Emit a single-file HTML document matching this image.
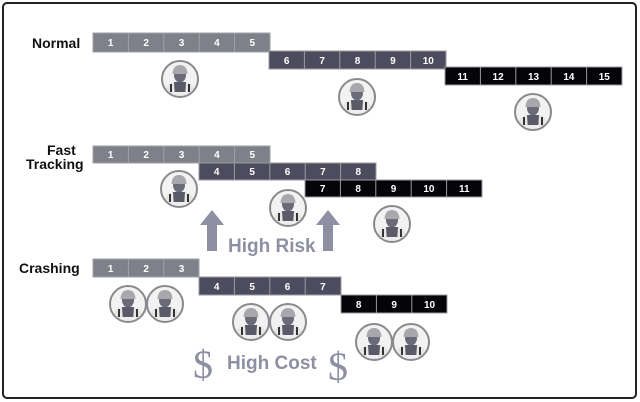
<!DOCTYPE html>
<html><head><meta charset="utf-8"><style>
html,body{margin:0;padding:0;background:#fff;}
svg{display:block;}
text{font-family:"Liberation Sans",sans-serif;}
.n{font-size:10px;fill:#fff;text-anchor:middle;font-weight:bold;}
.l{font-size:14px;font-weight:bold;fill:#111;}
</style></head><body>
<svg width="640" height="402" viewBox="0 0 640 402" xmlns="http://www.w3.org/2000/svg">
<defs>
<g id="w">
<circle cx="0" cy="0" r="18" fill="#f2f2f2" stroke="#8a8a8e" stroke-width="2"/>
<clipPath id="c"><circle cx="0" cy="0" r="17"/></clipPath>
<g clip-path="url(#c)">
<path d="M-15,18 L-14,9 Q-12,4 -6,3 L6,3 Q12,4 14,9 L15,18 Z" fill="#e6e6e6"/>
<path d="M-6,3 L6,3 L5,18 L-5,18 Z" fill="#5a5a68"/>
<rect x="-10" y="5" width="2" height="13" fill="#333"/>
<rect x="8" y="5" width="2" height="13" fill="#333"/>
<rect x="-10" y="13" width="20" height="5" fill="#eee"/>
<ellipse cx="0" cy="-4" rx="6" ry="7.5" fill="#6a6a78"/>
<path d="M-7.5,-5 Q-7,-14 0,-14 Q7,-14 7.5,-5 Z" fill="#a8a8ac"/>
</g>
</g>
</defs>
<rect x="3" y="3" width="633" height="395" rx="4" fill="none" stroke="#222" stroke-width="2"/>

<text class="l" x="32" y="48">Normal</text>
<text class="l" x="47" y="155">Fast</text>
<text class="l" x="26" y="169">Tracking</text>
<text class="l" x="19" y="273">Crashing</text>

<!-- Normal -->
<g>
<rect x="93" y="33" width="177" height="19" fill="#7e8189" stroke="#a0a2a6"/>
<path d="M128.4,33v19M163.8,33v19M199.2,33v19M234.6,33v19" stroke="#a0a2a6"/>
<text class="n" x="110.7" y="46">1</text><text class="n" x="146.1" y="46">2</text><text class="n" x="181.5" y="46">3</text><text class="n" x="216.9" y="46">4</text><text class="n" x="252.3" y="46">5</text>
<rect x="269" y="51" width="177" height="18" fill="#4d4c5e" stroke="#9a9aa2"/>
<path d="M304.4,51v18M339.8,51v18M375.2,51v18M410.6,51v18" stroke="#9a9aa2"/>
<text class="n" x="286.7" y="64">6</text><text class="n" x="322.1" y="64">7</text><text class="n" x="357.5" y="64">8</text><text class="n" x="392.9" y="64">9</text><text class="n" x="428.3" y="64">10</text>
<rect x="445" y="67" width="177" height="18" fill="#050408" stroke="#9a9aa2"/>
<path d="M480.4,67v18M515.8,67v18M551.2,67v18M586.6,67v18" stroke="#9a9aa2"/>
<text class="n" x="462.7" y="80">11</text><text class="n" x="498.1" y="80">12</text><text class="n" x="533.5" y="80">13</text><text class="n" x="568.9" y="80">14</text><text class="n" x="604.3" y="80">15</text>
<use href="#w" x="180" y="79"/><use href="#w" x="357" y="97"/><use href="#w" x="533" y="112"/>
</g>

<!-- Fast tracking -->
<g>
<rect x="93" y="146" width="177" height="17" fill="#7e8189" stroke="#a0a2a6"/>
<path d="M128.4,146v17M163.8,146v17M199.2,146v17M234.6,146v17" stroke="#a0a2a6"/>
<text class="n" x="110.7" y="158">1</text><text class="n" x="146.1" y="158">2</text><text class="n" x="181.5" y="158">3</text><text class="n" x="216.9" y="158">4</text><text class="n" x="252.3" y="158">5</text>
<rect x="199" y="163" width="177" height="17" fill="#4d4c5e" stroke="#9a9aa2"/>
<path d="M234.4,163v17M269.8,163v17M305.2,163v17M340.6,163v17" stroke="#9a9aa2"/>
<text class="n" x="216.7" y="175">4</text><text class="n" x="252.1" y="175">5</text><text class="n" x="287.5" y="175">6</text><text class="n" x="322.9" y="175">7</text><text class="n" x="358.3" y="175">8</text>
<rect x="305" y="180" width="177" height="17" fill="#050408" stroke="#9a9aa2"/>
<path d="M340.4,180v17M375.8,180v17M411.2,180v17M446.6,180v17" stroke="#9a9aa2"/>
<text class="n" x="322.7" y="192">7</text><text class="n" x="358.1" y="192">8</text><text class="n" x="393.5" y="192">9</text><text class="n" x="428.9" y="192">10</text><text class="n" x="464.3" y="192">11</text>
<use href="#w" x="179" y="189"/><use href="#w" x="288" y="208"/><use href="#w" x="392" y="224"/>
<path d="M212,210 L224,225 L217,225 L217,251 L207,251 L207,225 L200,225 Z" fill="#8e8fa3"/>
<path d="M328,210 L340,225 L333,225 L333,251 L323,251 L323,225 L316,225 Z" fill="#8e8fa3"/>
<text x="228" y="252" style="font-size:19px;font-weight:bold;fill:#8e8fa3">High Risk</text>
</g>

<!-- Crashing -->
<g>
<rect x="93" y="259" width="106" height="18" fill="#7e8189" stroke="#a0a2a6"/>
<path d="M128.4,259v18M163.8,259v18" stroke="#a0a2a6"/>
<text class="n" x="110.7" y="272">1</text><text class="n" x="146.1" y="272">2</text><text class="n" x="181.5" y="272">3</text>
<rect x="199" y="277" width="142" height="18" fill="#4d4c5e" stroke="#9a9aa2"/>
<path d="M234.4,277v18M269.8,277v18M305.2,277v18" stroke="#9a9aa2"/>
<text class="n" x="216.7" y="290">4</text><text class="n" x="252.1" y="290">5</text><text class="n" x="287.5" y="290">6</text><text class="n" x="322.9" y="290">7</text>
<rect x="341" y="295" width="106" height="18" fill="#050408" stroke="#9a9aa2"/>
<path d="M376.4,295v18M411.8,295v18" stroke="#9a9aa2"/>
<text class="n" x="358.7" y="308">8</text><text class="n" x="394.1" y="308">9</text><text class="n" x="429.5" y="308">10</text>
<use href="#w" x="128" y="304"/><use href="#w" x="165" y="304"/>
<use href="#w" x="251" y="322"/><use href="#w" x="288" y="322"/>
<use href="#w" x="374" y="342"/><use href="#w" x="411" y="342"/>
<text x="193" y="378" style="font-family:'Liberation Serif',serif;font-size:40px;fill:#8e8fa3">$</text>
<text x="328" y="380" style="font-family:'Liberation Serif',serif;font-size:40px;fill:#8e8fa3">$</text>
<text x="227" y="369" style="font-size:19px;font-weight:bold;fill:#8e8fa3">High Cost</text>
</g>
</svg>
</body></html>
